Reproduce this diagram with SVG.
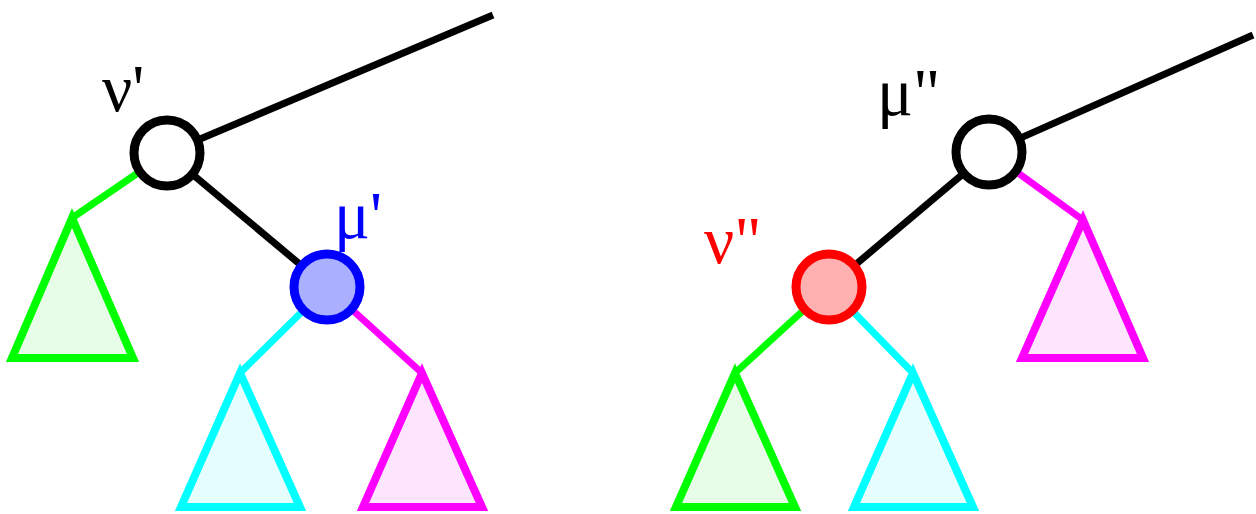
<svg xmlns="http://www.w3.org/2000/svg" width="1256" height="514" viewBox="0 0 1256 514">
<style>
.e{stroke-width:7;fill:none;stroke-linecap:butt}
.k{stroke:#000}.g{stroke:#00ff00}.c{stroke:#00ffff}.m{stroke:#ff00ff}
.tri{stroke-width:8;stroke-linejoin:miter}
.lbl{font-family:"Liberation Serif","DejaVu Serif",serif;font-size:67px}
</style>
<rect width="1256" height="514" fill="#fff"/>
<g id="connectors">
<line class="e k" x1="167" y1="153" x2="493" y2="15"/>
<line class="e k" x1="167" y1="153" x2="327" y2="287"/>
<line class="e g" x1="167" y1="153" x2="72" y2="218"/>
<line class="e c" x1="327" y1="287" x2="240" y2="373"/>
<line class="e m" x1="327" y1="287" x2="422" y2="373"/>
<line class="e k" x1="989" y1="152" x2="1253" y2="35"/>
<line class="e k" x1="989" y1="152" x2="829" y2="287"/>
<line class="e m" x1="989" y1="152" x2="1083" y2="220"/>
<line class="e g" x1="829" y1="287" x2="735" y2="373"/>
<line class="e c" x1="829" y1="287" x2="913" y2="373"/>
</g>
<g id="nu1">
<circle cx="167" cy="153" r="33" fill="#fff" stroke="#000" stroke-width="9"/>
<text class="lbl" x="102" y="111" fill="#000">ν'</text>
</g>
<g id="mu1">
<circle cx="327" cy="287" r="33" fill="#aab0ff" stroke="#0000ff" stroke-width="9"/>
<text class="lbl" x="334" y="238" fill="#0000ff">μ'</text>
</g>
<g id="mu2">
<circle cx="989" cy="152" r="33" fill="#fff" stroke="#000" stroke-width="9"/>
<text class="lbl" x="877" y="115" fill="#000">μ"</text>
</g>
<g id="nu2">
<circle cx="829" cy="287" r="33" fill="#ffb0b0" stroke="#ff0000" stroke-width="9"/>
<text class="lbl" x="704" y="263" fill="#ff0000">ν"</text>
</g>
<g id="tri-green-left"><polygon class="tri g" points="72,218 12,358 133,358" fill="#e8fde8"/></g>
<g id="tri-cyan-left"><polygon class="tri c" points="240,373 181,507 300,507" fill="#e6fdfd"/></g>
<g id="tri-magenta-left"><polygon class="tri m" points="422,373 363,507 482,507" fill="#fde6fd"/></g>
<g id="tri-magenta-right"><polygon class="tri m" points="1083,220 1022,358 1143,358" fill="#fde6fd"/></g>
<g id="tri-green-right"><polygon class="tri g" points="735,373 676,507 795,507" fill="#e8fde8"/></g>
<g id="tri-cyan-right"><polygon class="tri c" points="913,373 854,507 973,507" fill="#e6fdfd"/></g>
</svg>
